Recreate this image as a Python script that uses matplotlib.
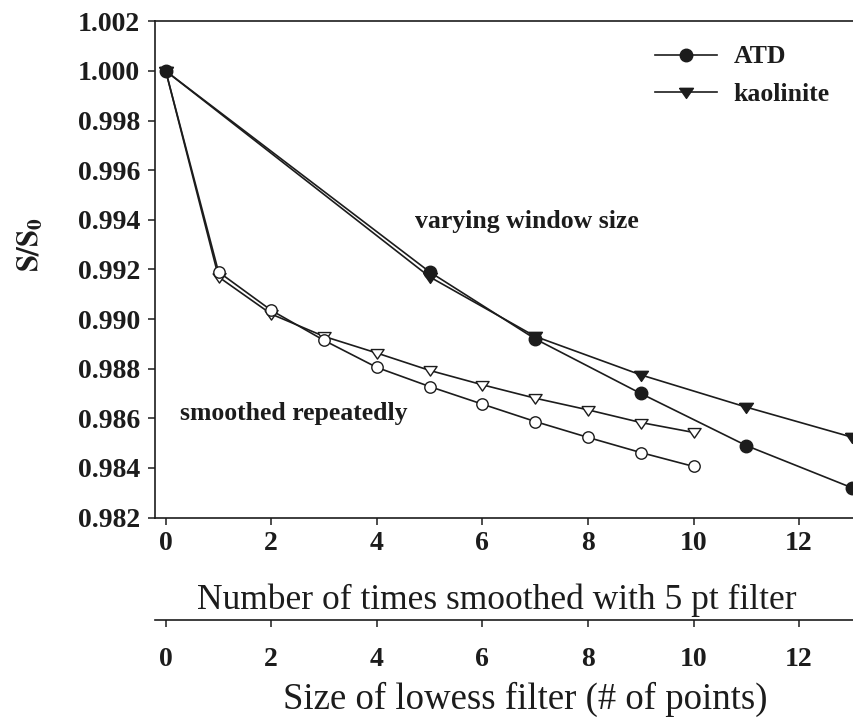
import matplotlib
matplotlib.use("Agg")
import matplotlib.pyplot as plt

plt.rcParams['font.family'] = ['Liberation Serif', 'DejaVu Serif']
plt.rcParams['mathtext.fontset'] = 'stix'

# Data
x_window = [0, 5, 7, 9, 11, 13]
atd_window = [1.000, 0.9919, 0.9892, 0.9870, 0.9849, 0.9832]
kao_window = [1.000, 0.9917, 0.9893, 0.98775, 0.98645, 0.98524]

x_repeat = [0, 1, 2, 3, 4, 5, 6, 7, 8, 9, 10]
atd_repeat = [1.000, 0.9919, 0.99035, 0.98914, 0.98805, 0.98728, 0.98657,
              0.98587, 0.98523, 0.98462, 0.98406]
kao_repeat = [1.000, 0.9917, 0.9902, 0.9893, 0.98863, 0.98793, 0.98735,
              0.98681, 0.98634, 0.98583, 0.98543]

yticks = [0.982, 0.984, 0.986, 0.988, 0.990, 0.992, 0.994, 0.996, 0.998, 1.000, 1.002]
xticks = [0, 2, 4, 6, 8, 10, 12]

ink = '#1c1c1c'
tri = [(-1, 0.6), (1, 0.6), (0, -0.85), (-1, 0.6)]

fig = plt.figure(figsize=(8.54, 7.18), dpi=100)
ax = fig.add_axes([0.182, 0.2792, 0.818, 0.6911])

ax.plot(x_repeat, kao_repeat, color=ink, lw=1.2, marker=tri, ms=9.5,
        mfc='white', mec=ink, mew=1.0, zorder=3)
ax.plot(x_repeat, atd_repeat, color=ink, lw=1.2, marker='o', ms=8.2,
        mfc='white', mec=ink, mew=1.0, zorder=3)
l2, = ax.plot(x_window, kao_window, color=ink, lw=1.2, marker=tri, ms=10,
              mfc=ink, mec=ink, zorder=4, label='kaolinite')
l1, = ax.plot(x_window, atd_window, color=ink, lw=1.2, marker='o', ms=9,
              mfc=ink, mec=ink, zorder=5, label='ATD')

ax.set_xlim(-0.195, 13.04)
ax.set_ylim(0.982, 1.002)
ax.set_yticks(yticks)
ax.set_yticklabels([f'{v:.3f}' for v in yticks])
ax.set_xticks(xticks)
ax.set_xticklabels([str(v) for v in xticks])

ax.spines['right'].set_visible(False)
for s in ['left', 'top', 'bottom']:
    ax.spines[s].set_linewidth(1.2)
    ax.spines[s].set_color(ink)

ax.tick_params(direction='out', length=5, width=1.1, colors=ink, labelsize=20)
ax.tick_params(axis='x', pad=4.5)
ax.tick_params(axis='y', pad=6)
for lab in ax.get_xticklabels() + ax.get_yticklabels():
    lab.set_fontweight('bold')

ax.set_ylabel(r'$\mathbf{S/S_0}$', fontsize=22, color=ink)
ax.yaxis.set_label_coords(-0.179, 0.55)
ax.yaxis.label.set_va('center')

sec = ax.secondary_xaxis(-0.2066)
sec.set_xticks(xticks)
sec.set_xticklabels([str(v) for v in xticks])
sec.tick_params(direction='out', length=5, width=1.1, colors=ink,
                labelsize=20, pad=14.3)
for lab in sec.get_xticklabels():
    lab.set_fontweight('bold')
sec.spines['bottom'].set_linewidth(1.2)
sec.spines['bottom'].set_color(ink)

fig.text(0.582, 0.164, 'Number of times smoothed with 5 pt filter',
         fontsize=25.5, color=ink, ha='center', va='center')
fig.text(0.615, 0.0265, 'Size of lowess filter (# of points)',
         fontsize=26.5, color=ink, ha='center', va='center')

ax.text(6.84, 0.99392, 'varying window size', fontsize=18.5, fontweight='bold',
        ha='center', va='center', color=ink)
ax.text(0.27, 0.98618, 'smoothed repeatedly', fontsize=18.5, fontweight='bold',
        ha='left', va='center', color=ink)

leg = ax.legend(handles=[l1, l2], loc='upper right', frameon=False,
                fontsize=18.5, handlelength=2.4, handletextpad=0.66,
                borderaxespad=0.0, bbox_to_anchor=(0.98, 0.972),
                labelspacing=0.55)
for t in leg.get_texts():
    t.set_fontweight('bold')
    t.set_color(ink)

fig.savefig('out.png', dpi=100)
